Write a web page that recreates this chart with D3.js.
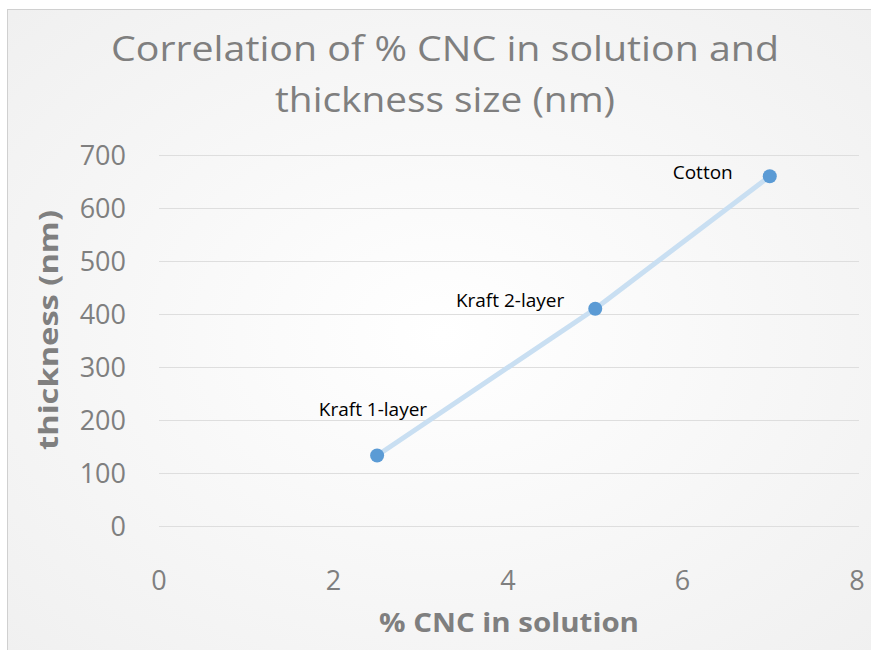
<!DOCTYPE html>
<html>
<head>
<meta charset="utf-8">
<script src="https://cdn.jsdelivr.net/npm/d3@7"></script>
<style>
  body { margin: 0; background: #fff; }
  svg { display: block; font-family: "Open Sans", sans-serif; }
</style>
</head>
<body>
<svg width="871" height="650"></svg>
<script>
// data
var labels = ['Kraft 1-layer', 'Kraft 2-layer', 'Cotton'];
var cnc = [2.5, 5, 7];
var thickness = [133, 410, 660];
var xTicks = [0, 2, 4, 6, 8];
var yTicks = [0, 100, 200, 300, 400, 500, 600, 700];

var svg = d3.select('svg');

// background with soft radial shading like the office chart
var defs = svg.append('defs');
var grad = defs.append('radialGradient').attr('id', 'bg')
    .attr('cx', '50%').attr('cy', '50%').attr('r', '70%');
grad.append('stop').attr('offset', '0%').attr('stop-color', '#ffffff');
grad.append('stop').attr('offset', '100%').attr('stop-color', '#f0f0f0');

svg.append('rect')
    .attr('x', 7.5).attr('y', 9.5)
    .attr('width', 870).attr('height', 650)
    .attr('fill', 'url(#bg)')
    .attr('stroke', '#d0d0d0');

var xScale = d3.scaleLinear().domain([0, 8]).range([159, 857]);
var yScale = d3.scaleLinear().domain([0, 700]).range([526, 155]);

// gridlines
svg.append('g')
    .attr('transform', 'translate(159,0)')
    .call(d3.axisLeft(yScale).tickValues(yTicks).tickSize(-700).tickFormat(''))
    .call(function(g) {
        g.select('.domain').remove();
        g.selectAll('line').attr('stroke', '#dedede').attr('stroke-width', 1);
    });

// y tick labels
svg.append('g').selectAll('text')
    .data(yTicks)
    .enter()
    .append('text')
    .attr('x', 126)
    .attr('y', function(d) { return yScale(d) + 10; })
    .attr('text-anchor', 'end')
    .attr('fill', '#7f7f7f')
    .attr('font-size', 27)
    .text(function(d) { return d; });

// x tick labels
svg.append('g').selectAll('text')
    .data(xTicks)
    .enter()
    .append('text')
    .attr('x', function(d) { return xScale(d); })
    .attr('y', 590)
    .attr('text-anchor', 'middle')
    .attr('fill', '#7f7f7f')
    .attr('font-size', 27)
    .text(function(d) { return d; });

// title
var title = svg.append('text')
    .attr('text-anchor', 'middle')
    .attr('fill', '#7f7f7f')
    .attr('font-size', 34);
title.append('tspan').attr('x', 445).attr('y', 61)
    .attr('textLength', 668).attr('lengthAdjust', 'spacingAndGlyphs')
    .text('Correlation of % CNC in solution and');
title.append('tspan').attr('x', 445).attr('y', 112)
    .attr('textLength', 340).attr('lengthAdjust', 'spacingAndGlyphs')
    .text('thickness size (nm)');

// axis titles
svg.append('text')
    .attr('x', 509).attr('y', 632)
    .attr('text-anchor', 'middle')
    .attr('fill', '#7f7f7f')
    .attr('font-size', 27).attr('font-weight', 'bold')
    .attr('textLength', 260).attr('lengthAdjust', 'spacingAndGlyphs')
    .text('% CNC in solution');

svg.append('text')
    .attr('transform', 'translate(58,330) rotate(-90)')
    .attr('text-anchor', 'middle')
    .attr('fill', '#7f7f7f')
    .attr('font-size', 27).attr('font-weight', 'bold')
    .attr('textLength', 240).attr('lengthAdjust', 'spacingAndGlyphs')
    .text('thickness (nm)');

var points = cnc.map(function(c, i) {
    return { x: c, y: thickness[i], label: labels[i] };
});

// connecting line
var line = d3.line()
    .x(function(d) { return xScale(d.x); })
    .y(function(d) { return yScale(d.y); });

svg.append('path')
    .datum(points)
    .attr('d', line)
    .attr('fill', 'none')
    .attr('stroke', '#c9dff2')
    .attr('stroke-width', 5)
    .attr('stroke-linecap', 'round');

svg.selectAll('.pt')
    .data(points)
    .enter()
    .append('circle')
    .attr('class', 'pt')
    .attr('cx', function(d) { return xScale(d.x); })
    .attr('cy', function(d) { return yScale(d.y); })
    .attr('r', 7)
    .attr('fill', '#5b9bd5');

// label placement (right edge of text relative to the point)
var labelShift = {
    'Kraft 1-layer': [50, -40],
    'Kraft 2-layer': [-31, -2],
    'Cotton': [-37, 3]
};

svg.selectAll('.lbl')
    .data(points)
    .enter()
    .append('text')
    .attr('class', 'lbl')
    .attr('x', function(d) { return xScale(d.x) + labelShift[d.label][0]; })
    .attr('y', function(d) { return yScale(d.y) + labelShift[d.label][1]; })
    .attr('text-anchor', 'end')
    .attr('fill', '#000')
    .attr('font-size', 19)
    .text(function(d) { return d.label; });
</script>
</body>
</html>
